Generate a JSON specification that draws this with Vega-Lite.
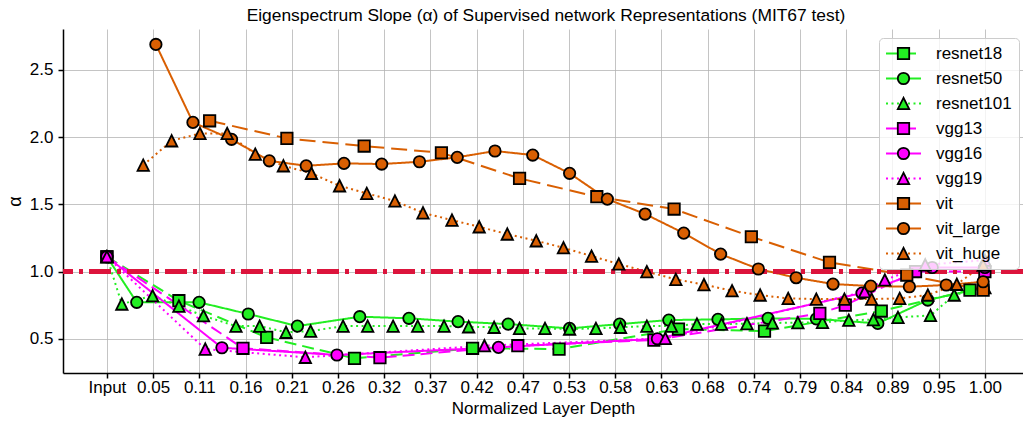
{
  "$schema": "https://vega.github.io/schema/vega-lite/v6.json",
  "width": 960,
  "height": 344,
  "autosize": {"type": "none"},
  "padding": {"left": 63, "top": 29, "right": 0, "bottom": 52},
  "background": "white",
  "config": {
    "view": {"stroke": null},
    "font": "Liberation Sans",
    "axis": {"labelFont": "Liberation Sans", "titleFont": "Liberation Sans", "labelColor": "black", "titleColor": "black", "titleFontWeight": "normal", "domainColor": "black", "domainWidth": 1.5, "tickColor": "black", "tickWidth": 1.5, "tickSize": 5, "gridColor": "#b0b0b0", "gridOpacity": 0.75, "gridWidth": 1}
  },
  "title": {"text": "Eigenspectrum Slope (α) of Supervised network Representations (MIT67 test)", "fontSize": 17.4, "fontWeight": "normal", "font": "Liberation Sans", "color": "black", "offset": 5, "dx": 3},
  "data": {"values": [
    {"model":"resnet18","depth":0,"alpha":1.11},{"model":"resnet18","depth":0.082,"alpha":0.783},{"model":"resnet18","depth":0.182,"alpha":0.51},{"model":"resnet18","depth":0.282,"alpha":0.354},{"model":"resnet18","depth":0.4165,"alpha":0.429},{"model":"resnet18","depth":0.515,"alpha":0.423},{"model":"resnet18","depth":0.651,"alpha":0.572},{"model":"resnet18","depth":0.749,"alpha":0.557},{"model":"resnet18","depth":0.882,"alpha":0.706},{"model":"resnet18","depth":0.983,"alpha":0.862},
    {"model":"resnet50","depth":0,"alpha":1.11},{"model":"resnet50","depth":0.034,"alpha":0.771},{"model":"resnet50","depth":0.105,"alpha":0.771},{"model":"resnet50","depth":0.161,"alpha":0.684},{"model":"resnet50","depth":0.217,"alpha":0.594},{"model":"resnet50","depth":0.288,"alpha":0.664},{"model":"resnet50","depth":0.344,"alpha":0.652},{"model":"resnet50","depth":0.4,"alpha":0.627},{"model":"resnet50","depth":0.457,"alpha":0.609},{"model":"resnet50","depth":0.527,"alpha":0.577},{"model":"resnet50","depth":0.584,"alpha":0.609},{"model":"resnet50","depth":0.64,"alpha":0.639},{"model":"resnet50","depth":0.696,"alpha":0.644},{"model":"resnet50","depth":0.753,"alpha":0.652},{"model":"resnet50","depth":0.808,"alpha":0.648},{"model":"resnet50","depth":0.878,"alpha":0.614},{"model":"resnet50","depth":0.935,"alpha":0.788},{"model":"resnet50","depth":0.998,"alpha":0.88},
    {"model":"resnet101","depth":0,"alpha":1.11},{"model":"resnet101","depth":0.017,"alpha":0.758},{"model":"resnet101","depth":0.052,"alpha":0.82},{"model":"resnet101","depth":0.082,"alpha":0.743},{"model":"resnet101","depth":0.11,"alpha":0.671},{"model":"resnet101","depth":0.147,"alpha":0.594},{"model":"resnet101","depth":0.174,"alpha":0.594},{"model":"resnet101","depth":0.204,"alpha":0.548},{"model":"resnet101","depth":0.232,"alpha":0.557},{"model":"resnet101","depth":0.269,"alpha":0.594},{"model":"resnet101","depth":0.297,"alpha":0.594},{"model":"resnet101","depth":0.326,"alpha":0.594},{"model":"resnet101","depth":0.354,"alpha":0.594},{"model":"resnet101","depth":0.384,"alpha":0.594},{"model":"resnet101","depth":0.412,"alpha":0.589},{"model":"resnet101","depth":0.441,"alpha":0.585},{"model":"resnet101","depth":0.47,"alpha":0.577},{"model":"resnet101","depth":0.499,"alpha":0.577},{"model":"resnet101","depth":0.527,"alpha":0.572},{"model":"resnet101","depth":0.557,"alpha":0.577},{"model":"resnet101","depth":0.585,"alpha":0.585},{"model":"resnet101","depth":0.615,"alpha":0.594},{"model":"resnet101","depth":0.643,"alpha":0.594},{"model":"resnet101","depth":0.672,"alpha":0.609},{"model":"resnet101","depth":0.7,"alpha":0.609},{"model":"resnet101","depth":0.729,"alpha":0.612},{"model":"resnet101","depth":0.758,"alpha":0.617},{"model":"resnet101","depth":0.787,"alpha":0.62},{"model":"resnet101","depth":0.815,"alpha":0.622},{"model":"resnet101","depth":0.845,"alpha":0.638},{"model":"resnet101","depth":0.873,"alpha":0.642},{"model":"resnet101","depth":0.901,"alpha":0.659},{"model":"resnet101","depth":0.938,"alpha":0.673},{"model":"resnet101","depth":0.965,"alpha":0.825},{"model":"resnet101","depth":1.0,"alpha":0.88},
    {"model":"vgg13","depth":0,"alpha":1.11},{"model":"vgg13","depth":0.155,"alpha":0.429},{"model":"vgg13","depth":0.311,"alpha":0.359},{"model":"vgg13","depth":0.468,"alpha":0.448},{"model":"vgg13","depth":0.623,"alpha":0.49},{"model":"vgg13","depth":0.812,"alpha":0.689},{"model":"vgg13","depth":0.841,"alpha":0.75},{"model":"vgg13","depth":0.921,"alpha":1.0},{"model":"vgg13","depth":1.0,"alpha":1.0},
    {"model":"vgg16","depth":0,"alpha":1.11},{"model":"vgg16","depth":0.131,"alpha":0.433},{"model":"vgg16","depth":0.262,"alpha":0.379},{"model":"vgg16","depth":0.446,"alpha":0.436},{"model":"vgg16","depth":0.627,"alpha":0.5},{"model":"vgg16","depth":0.86,"alpha":0.84},{"model":"vgg16","depth":0.94,"alpha":1.03},{"model":"vgg16","depth":1.0,"alpha":1.03},
    {"model":"vgg19","depth":0,"alpha":1.11},{"model":"vgg19","depth":0.112,"alpha":0.423},{"model":"vgg19","depth":0.226,"alpha":0.362},{"model":"vgg19","depth":0.43,"alpha":0.448},{"model":"vgg19","depth":0.636,"alpha":0.503},{"model":"vgg19","depth":0.863,"alpha":0.85},{"model":"vgg19","depth":0.886,"alpha":0.937},{"model":"vgg19","depth":0.932,"alpha":1.05},{"model":"vgg19","depth":1.0,"alpha":1.085},
    {"model":"vit","depth":0.117,"alpha":2.122},{"model":"vit","depth":0.205,"alpha":1.991},{"model":"vit","depth":0.293,"alpha":1.934},{"model":"vit","depth":0.381,"alpha":1.884},{"model":"vit","depth":0.47,"alpha":1.693},{"model":"vit","depth":0.558,"alpha":1.557},{"model":"vit","depth":0.646,"alpha":1.465},{"model":"vit","depth":0.734,"alpha":1.259},{"model":"vit","depth":0.823,"alpha":1.068},{"model":"vit","depth":0.911,"alpha":0.974},{"model":"vit","depth":0.998,"alpha":0.862},
    {"model":"vit_large","depth":0.0558,"alpha":2.69},{"model":"vit_large","depth":0.098,"alpha":2.11},{"model":"vit_large","depth":0.142,"alpha":1.984},{"model":"vit_large","depth":0.185,"alpha":1.824},{"model":"vit_large","depth":0.227,"alpha":1.787},{"model":"vit_large","depth":0.27,"alpha":1.805},{"model":"vit_large","depth":0.313,"alpha":1.8},{"model":"vit_large","depth":0.356,"alpha":1.817},{"model":"vit_large","depth":0.399,"alpha":1.85},{"model":"vit_large","depth":0.442,"alpha":1.897},{"model":"vit_large","depth":0.485,"alpha":1.867},{"model":"vit_large","depth":0.527,"alpha":1.731},{"model":"vit_large","depth":0.57,"alpha":1.539},{"model":"vit_large","depth":0.613,"alpha":1.428},{"model":"vit_large","depth":0.657,"alpha":1.286},{"model":"vit_large","depth":0.699,"alpha":1.13},{"model":"vit_large","depth":0.742,"alpha":1.019},{"model":"vit_large","depth":0.785,"alpha":0.954},{"model":"vit_large","depth":0.827,"alpha":0.907},{"model":"vit_large","depth":0.87,"alpha":0.892},{"model":"vit_large","depth":0.914,"alpha":0.887},{"model":"vit_large","depth":0.956,"alpha":0.9},{"model":"vit_large","depth":0.998,"alpha":0.924},
    {"model":"vit_huge","depth":0.0414,"alpha":1.792},{"model":"vit_huge","depth":0.0737,"alpha":1.973},{"model":"vit_huge","depth":0.106,"alpha":2.028},{"model":"vit_huge","depth":0.137,"alpha":2.028},{"model":"vit_huge","depth":0.169,"alpha":1.874},{"model":"vit_huge","depth":0.201,"alpha":1.787},{"model":"vit_huge","depth":0.233,"alpha":1.731},{"model":"vit_huge","depth":0.265,"alpha":1.638},{"model":"vit_huge","depth":0.296,"alpha":1.582},{"model":"vit_huge","depth":0.328,"alpha":1.525},{"model":"vit_huge","depth":0.36,"alpha":1.437},{"model":"vit_huge","depth":0.393,"alpha":1.383},{"model":"vit_huge","depth":0.424,"alpha":1.333},{"model":"vit_huge","depth":0.456,"alpha":1.279},{"model":"vit_huge","depth":0.489,"alpha":1.229},{"model":"vit_huge","depth":0.52,"alpha":1.177},{"model":"vit_huge","depth":0.552,"alpha":1.115},{"model":"vit_huge","depth":0.583,"alpha":1.056},{"model":"vit_huge","depth":0.615,"alpha":0.999},{"model":"vit_huge","depth":0.648,"alpha":0.942},{"model":"vit_huge","depth":0.68,"alpha":0.903},{"model":"vit_huge","depth":0.712,"alpha":0.857},{"model":"vit_huge","depth":0.744,"alpha":0.825},{"model":"vit_huge","depth":0.776,"alpha":0.8},{"model":"vit_huge","depth":0.808,"alpha":0.795},{"model":"vit_huge","depth":0.84,"alpha":0.795},{"model":"vit_huge","depth":0.871,"alpha":0.795},{"model":"vit_huge","depth":0.903,"alpha":0.8},{"model":"vit_huge","depth":0.935,"alpha":0.825},{"model":"vit_huge","depth":0.968,"alpha":0.905},{"model":"vit_huge","depth":0.998,"alpha":1.048}
  ]},
  "layer": [
    {
      "mark": {"type": "line", "strokeWidth": 2},
      "encoding": {
        "x": {"field": "depth", "type": "quantitative",
          "scale": {"domain": [-0.05, 1.0434], "nice": false, "zero": false},
          "axis": {"title": "Normalized Layer Depth", "titleFontSize": 17, "titlePadding": 5, "labelFontSize": 17, "labelPadding": 1,
            "values": [0, 0.0526316, 0.1052632, 0.1578947, 0.2105263, 0.2631579, 0.3157895, 0.3684211, 0.4210526, 0.4736842, 0.5263158, 0.5789474, 0.6315789, 0.6842105, 0.7368421, 0.7894737, 0.8421053, 0.8947368, 0.9473684, 1],
            "labelExpr": "datum.value == 0 ? 'Input' : format(datum.value, '.2f')", "labelFlush": false, "labelOverlap": false}},
        "y": {"field": "alpha", "type": "quantitative",
          "scale": {"domain": [0.245, 2.805], "nice": false, "zero": false},
          "axis": {"title": "α", "titleFontSize": 18, "titlePadding": 5, "labelFontSize": 17, "labelPadding": 5, "values": [0.5, 1, 1.5, 2, 2.5], "format": ".1f"}},
        "stroke": {"field": "model", "type": "nominal",
          "scale": {"domain": ["resnet18","resnet50","resnet101","vgg13","vgg16","vgg19","vit","vit_large","vit_huge","_none"],
                    "range": ["#22ee22","#22ee22","#22ee22","#ff00ff","#ff00ff","#ff00ff","#d95f02","#d95f02","#d95f02","#000000"]},
          "legend": {"orient": "none", "legendX": 816, "legendY": 9, "title": null, "values": ["resnet18","resnet50","resnet101","vgg13","vgg16","vgg19","vit","vit_large","vit_huge"], "symbolType": "M-2.5,0H2.5", "symbolSize": 196, "symbolStrokeWidth": 2, "symbolOffset": 9, "labelOffset": 24, "labelFontSize": 17, "labelFont": "Liberation Sans", "labelColor": "black", "labelLimit": 300, "clipHeight": 17, "rowPadding": 7, "padding": 7, "fillColor": "rgba(255,255,255,0.8)", "strokeColor": "#cccccc", "cornerRadius": 4}},
        "strokeDash": {"field": "model", "type": "nominal",
          "scale": {"domain": ["resnet18","resnet50","resnet101","vgg13","vgg16","vgg19","vit","vit_large","vit_huge","_none"],
                    "range": [[12,6],[1,0],[2,3.5],[12,6],[1,0],[2,3.5],[16,7],[1,0],[2,3.5],[1,0]]}}
      }
    },
    {
      "mark": {"type": "rule", "color": "#dc143c", "strokeWidth": 3.5, "strokeDash": [22, 6, 4, 6]},
      "encoding": {"y": {"datum": 1}}
    },
    {
      "mark": {"type": "point", "filled": true, "opacity": 1, "size": 130, "stroke": "black", "strokeWidth": 1.8},
      "encoding": {
        "x": {"field": "depth", "type": "quantitative"},
        "y": {"field": "alpha", "type": "quantitative"},
        "fill": {"field": "model", "type": "nominal",
          "scale": {"domain": ["resnet18","resnet50","resnet101","vgg13","vgg16","vgg19","vit","vit_large","vit_huge"],
                    "range": ["#22ee22","#22ee22","#22ee22","#ff00ff","#ff00ff","#ff00ff","#d95f02","#d95f02","#d95f02"]},
          "legend": {"orient": "none", "legendX": 816, "legendY": 9, "title": null, "symbolSize": 130, "symbolStrokeWidth": 1.8, "symbolStrokeColor": "black", "symbolOffset": 9, "labelOffset": 24, "labelFontSize": 17, "labelFont": "Liberation Sans", "labelOpacity": 0, "labelLimit": 300, "clipHeight": 17, "rowPadding": 7, "padding": 7}},
        "shape": {"field": "model", "type": "nominal",
          "scale": {"domain": ["resnet18","resnet50","resnet101","vgg13","vgg16","vgg19","vit","vit_large","vit_huge"],
                    "range": ["square","circle","M0,-1L-1,1L1,1Z","square","circle","M0,-1L-1,1L1,1Z","square","circle","M0,-1L-1,1L1,1Z"]}}
      }
    }
  ]
}
